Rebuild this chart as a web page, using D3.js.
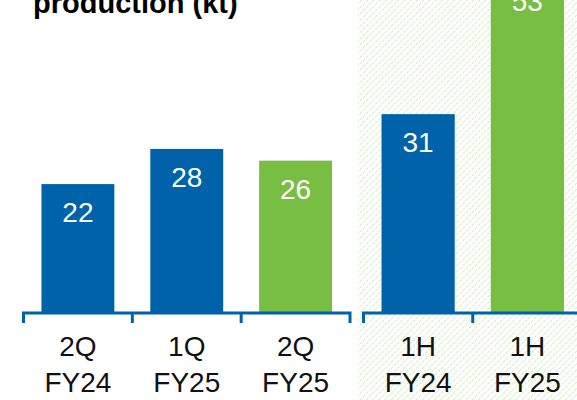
<!DOCTYPE html>
<html><head><meta charset="utf-8">
<script src="https://cdn.jsdelivr.net/npm/d3@7"></script>
<style>body{margin:0;background:#fff}svg{display:block}</style>
</head><body>
<script>
const quarterCats = ["2Q FY24", "1Q FY25", "2Q FY25"];
const quarterVals = [22, 28, 26];
const quarterColors = ["#0062a8", "#0062a8", "#77be43"];
const halfCats = ["1H FY24", "1H FY25"];
const halfVals = [31, 53];
const halfColors = ["#0062a8", "#77be43"];
const title = "production (kt)";

const W = 577, H = 400, base = 313;
const svg = d3.select("body").append("svg").attr("width", W).attr("height", H);
const defs = svg.append("defs");
const pat = defs.append("pattern").attr("id", "hatch").attr("patternUnits", "userSpaceOnUse")
  .attr("width", 4.4).attr("height", 4.4).attr("patternTransform", "rotate(45)");
pat.append("line").attr("x1", 0).attr("y1", 0).attr("x2", 0).attr("y2", 4.4)
  .attr("stroke", "#cbe8b6").attr("stroke-width", 1.6).attr("stroke-dasharray", "2,1");

svg.append("rect").attr("x", 358).attr("y", 0).attr("width", W - 358).attr("height", H).attr("fill", "url(#hatch)");

const xQ = d3.scaleBand().domain(quarterCats).range([23.5, 350]).paddingInner(0.33).paddingOuter(0.165);
const xH = d3.scaleBand().domain(halfCats).range([363.5, 582]).paddingInner(0.33).paddingOuter(0.165);
const yQ = d3.scaleLinear().domain([0, 50]).range([base, base - 293]);
const yH = d3.scaleLinear().domain([0, 53]).range([base, base - 340]);

function group(cats, vals, colors, x, y) {
  const g = svg.append("g");
  g.selectAll("rect").data(cats).join("rect")
    .attr("x", d => x(d)).attr("width", x.bandwidth())
    .attr("y", (d, i) => y(vals[i])).attr("height", (d, i) => base - y(vals[i]))
    .attr("fill", (d, i) => colors[i]);
  g.selectAll("text.v").data(cats).join("text").attr("class", "v")
    .attr("x", d => x(d) + x.bandwidth() / 2)
    .attr("y", (d, i) => y(vals[i]) + 38)
    .attr("text-anchor", "middle").attr("fill", "#fff")
    .style("font", "28px 'Liberation Sans', Arial, sans-serif")
    .text((d, i) => vals[i]);
  // axis with ticks at band boundaries
  const r = x.range(), step = x.step();
  let p = `M${r[0]},323V${base}H${r[1]}V323`;
  for (let i = 1; i < cats.length; i++) {
    const tx = r[0] + i * step;
    p += `M${tx},${base}V323`;
  }
  g.append("path").attr("d", p).attr("fill", "none").attr("stroke", "#0062a8").attr("stroke-width", 3);
  const lab = g.selectAll("text.l").data(cats).join("text").attr("class", "l")
    .attr("text-anchor", "middle").attr("fill", "#111")
    .style("font", "28px 'Liberation Sans', Arial, sans-serif");
  lab.append("tspan").attr("x", d => x(d) + x.bandwidth() / 2).attr("y", 356).text(d => d.split(" ")[0]);
  lab.append("tspan").attr("x", d => x(d) + x.bandwidth() / 2).attr("y", 392).text(d => d.split(" ")[1]);
}
group(quarterCats, quarterVals, quarterColors, xQ, yQ);
group(halfCats, halfVals, halfColors, xH, yH);

svg.append("text").attr("x", 33).attr("y", 13).attr("fill", "#000")
  .style("font", "bold 29px 'Liberation Sans', Arial, sans-serif").text(title);
</script>
</body></html>
